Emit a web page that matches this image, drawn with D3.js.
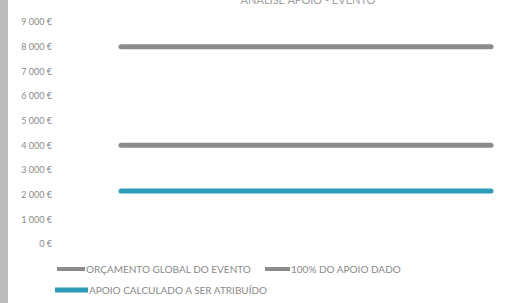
<!DOCTYPE html>
<html>
<head>
<meta charset="utf-8">
<script src="https://cdn.jsdelivr.net/npm/d3@7"></script>
<style>
  body { margin: 0; background: #fff; }
  svg { display: block; }
  text { font-family: Lato, "Open Sans", sans-serif; fill: #8a8a8a; }
</style>
</head>
<body>
<div id="chart"></div>
<script>
// Chart data
const categories = ['1', '2', '3', '4'];
const orcamentoGlobal = [8000, 8000, 8000, 8000];
const apoioDado = [4000, 4000, 4000, 4000];
const apoioCalculado = [2150, 2150, 2150, 2150];
const yTicks = [0, 1000, 2000, 3000, 4000, 5000, 6000, 7000, 8000, 9000];
const chartTitle = 'ANÁLISE APOIO - EVENTO';

const width = 513;
const height = 303;

const svg = d3.select('#chart')
    .append('svg')
    .attr('width', width)
    .attr('height', height);

// Scanned left edge
svg.append('rect')
    .attr('x', 0).attr('y', 0)
    .attr('width', 8).attr('height', height)
    .attr('fill', '#bcbcbc');

// Title (partly cut off at the top, as in the scan)
svg.append('text')
    .attr('x', 308)
    .attr('y', 4)
    .attr('text-anchor', 'middle')
    .style('font-size', '11px')
    .style('fill', '#a0a0a0')
    .text(chartTitle);

const x = d3.scalePoint()
    .domain(categories)
    .range([121, 491]);

const y = d3.scaleLinear()
    .domain([0, 9000])
    .range([244, 22]);

// Y axis labels only
const yAxis = d3.axisLeft(y)
    .tickValues(yTicks)
    .tickSize(0)
    .tickPadding(0)
    .tickFormat(d => d3.format(',')(d).replace(/,/g, ' ') + ' €');

const yg = svg.append('g')
    .attr('transform', 'translate(52,0)')
    .call(yAxis);
yg.select('.domain').remove();
yg.selectAll('text')
    .style('font-size', '9px')
    .style('fill', '#8a8a8a')
    .style('font-family', 'Lato, sans-serif');

const series = [
    { name: 'ORÇAMENTO GLOBAL DO EVENTO', values: orcamentoGlobal, color: '#8c8c8c' },
    { name: '100% DO APOIO DADO', values: apoioDado, color: '#8c8c8c' },
    { name: 'APOIO CALCULADO A SER ATRIBUÍDO', values: apoioCalculado, color: '#2f9cb8' }
];

const line = d3.line()
    .x((d, i) => x(categories[i]))
    .y(d => y(d));

svg.append('g')
    .selectAll('path')
    .data(series)
    .enter()
    .append('path')
    .attr('d', d => line(d.values))
    .attr('fill', 'none')
    .attr('stroke', d => d.color)
    .attr('stroke-width', 5)
    .attr('stroke-linecap', 'round');

// Legend
const legendPos = [
    { x: 57, y: 269, len: 28 },
    { x: 265, y: 269, len: 25 },
    { x: 55, y: 290, len: 33 }
];

const legend = svg.append('g')
    .selectAll('g')
    .data(series)
    .enter()
    .append('g')
    .attr('transform', (d, i) => `translate(${legendPos[i].x},${legendPos[i].y})`);

legend.append('line')
    .attr('x1', 0)
    .attr('x2', (d, i) => legendPos[i].len)
    .attr('y1', 0).attr('y2', 0)
    .attr('stroke', d => d.color)
    .attr('stroke-width', (d, i) => i === 2 ? 5 : 4);

legend.append('text')
    .attr('x', (d, i) => legendPos[i].len + 1)
    .attr('y', 0)
    .attr('dy', '0.35em')
    .style('font-size', '10px')
    .text(d => d.name);
</script>
</body>
</html>
